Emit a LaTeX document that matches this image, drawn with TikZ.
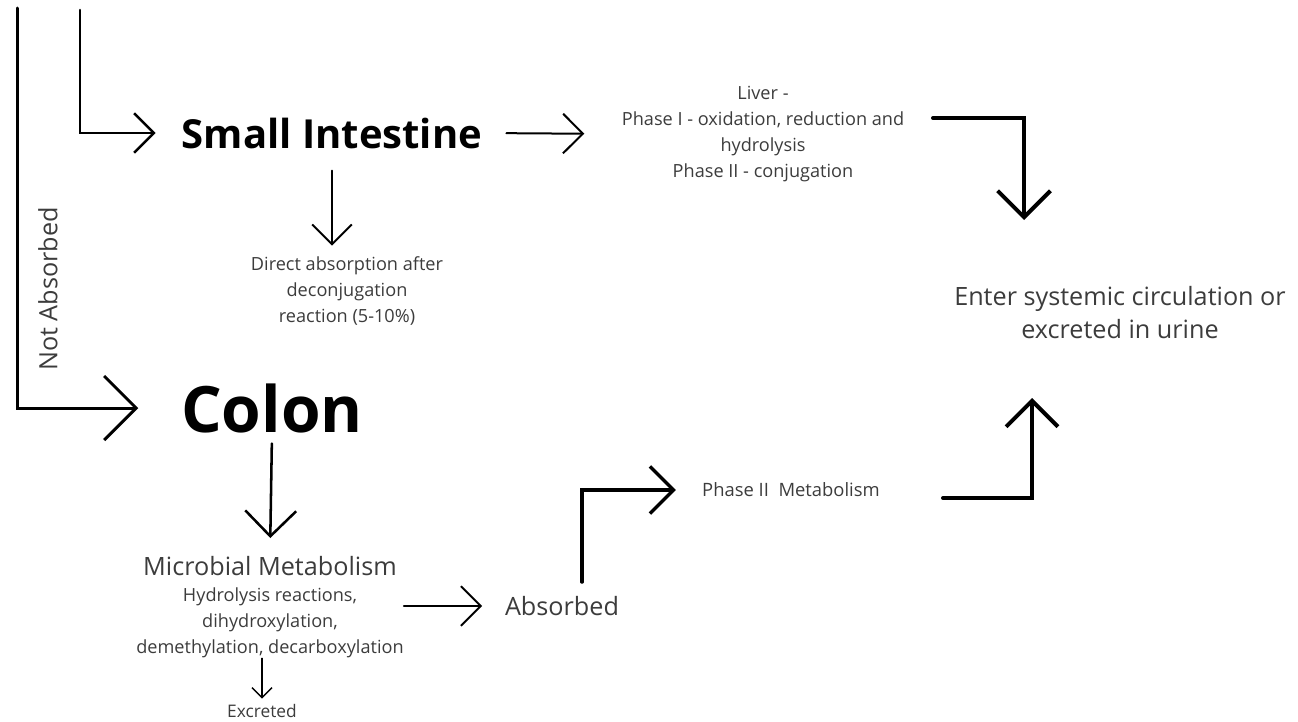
\documentclass[tikz,border=0pt]{standalone}
\usepackage{fontspec}
\setmainfont{Open Sans}
\usetikzlibrary{arrows.meta}
\definecolor{txtgray}{HTML}{3C3C3C}
\tikzset{
  conn/.style 2 args={line width=#1, line cap=round, -{Straight Barb[angle=90:#2]}},
  head/.style={font=\bfseries\fontsize{#1}{#1}\selectfont, inner sep=0pt},
  small/.style={text=txtgray, align=center, inner sep=0pt, font=\fontsize{13.6}{19.5}\selectfont},
  big/.style={text=txtgray, align=center, inner sep=0pt, font=\fontsize{18.9}{24.75}\selectfont},
  mid/.style={text=txtgray, inner sep=0pt, font=\fontsize{13.8}{13.8}\selectfont},
  tiny/.style={text=txtgray, inner sep=0pt, font=\fontsize{13}{13}\selectfont}
}
\begin{document}
\begin{tikzpicture}[x=0.75pt,y=-0.75pt]
\useasboundingbox (0,0) rectangle (1298,721);
% headings
\node[head=30] (si) at (332,133) {Small Intestine};
\node[head=48] (colon) at (272,408) {Colon};
% texts
\node[small] (liver) at (763,134) {Liver -\\Phase I - oxidation, reduction and\\hydrolysis\\Phase II - conjugation};
\node[small] (direct) at (347,291) {Direct absorption after\\deconjugation\\reaction (5-10\%)};
\node[big] (enter) at (1120,313) {Enter systemic circulation or\\excreted in urine};
\node[big] (micro) at (270,566) {Microbial Metabolism};
\node[small] (micsub) at (270,623) {Hydrolysis reactions,\\dihydroxylation,\\demethylation, decarboxylation};
\node[tiny] (excr) at (262,711) {Excreted};
\node[big] (absorbed) at (562,606) {Absorbed};
\node[mid] (phase2) at (791,490) {Phase II\ \ Metabolism};
\node[big, rotate=90] (notabs) at (48,289) {Not Absorbed};
% free ends
\coordinate (topA) at (17,8);
\coordinate (topB) at (80,10);
\coordinate (liverOut) at (933,118);
\coordinate (enterIn) at (1024,220);
\coordinate (phaseOut) at (943,498);
\coordinate (enterUp) at (1032,398);
% connectors
\draw[conn={2.25pt}{34pt}, shorten >=32pt] (topA) |- (colon.west);
\draw[conn={1.9pt}{21pt}, shorten >=19.5pt] (topB) |- (si.west);
\draw[conn={1.5pt}{21pt}, shorten <=18pt, shorten >=28pt] (si.east) -- (liver.west);
\draw[conn={1.5pt}{21pt}, shorten <=16.5pt, shorten >=8pt] (si.south) -- (si.south |- direct.north);
\draw[conn={3pt}{28pt}] (liverOut) -| (enterIn);
\draw[conn={1.9pt}{27pt}, shorten <=8pt, shorten >=13.5pt] (colon.south) -- (micro.north);
\draw[conn={1.5pt}{21pt}, shorten >=17pt] (micsub.east |- absorbed.west) -- (absorbed.west);
\draw[conn={1.1pt}{10.6pt}, shorten >=4pt] (excr.north |- micsub.south) -- (excr.north);
\draw[conn={2.6pt}{25pt}, shorten >=19.5pt] ([shift={(20,-14)}]absorbed.north) |- (phase2.west);
\draw[conn={3pt}{27.5pt}] (phaseOut) -| (enterUp);
\end{tikzpicture}
\end{document}
